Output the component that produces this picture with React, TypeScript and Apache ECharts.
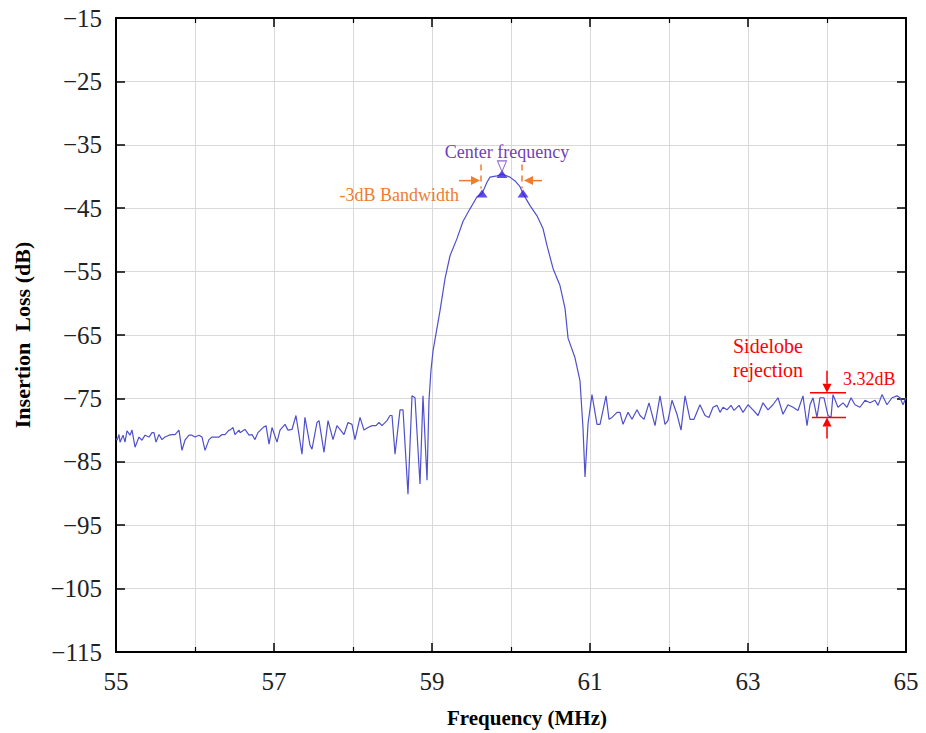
import React, { useEffect, useRef } from 'react';
import * as echarts from 'echarts';

// Frequency (MHz) and insertion loss (dB)
const freq = [
  55.0, 55.013, 55.038, 55.051, 55.089, 55.114, 55.139, 55.177, 55.203, 55.241,
  55.291, 55.329, 55.367, 55.418, 55.456, 55.481, 55.506, 55.544, 55.582, 55.62,
  55.671, 55.709, 55.747, 55.797, 55.835, 55.873, 55.924, 55.962, 56.0, 56.051,
  56.089, 56.127, 56.177, 56.215, 56.253, 56.304, 56.342, 56.38, 56.43, 56.443,
  56.481, 56.506, 56.557, 56.57, 56.62, 56.633, 56.684, 56.722, 56.759, 56.797,
  56.861, 56.899, 56.937, 56.975, 57.038, 57.076, 57.139, 57.177, 57.228, 57.278,
  57.354, 57.392, 57.456, 57.481, 57.544, 57.57, 57.633, 57.684, 57.747, 57.797,
  57.835, 57.886, 57.937, 57.987, 58.025, 58.089, 58.139, 58.19, 58.241, 58.291,
  58.329, 58.367, 58.43, 58.468, 58.494, 58.532, 58.595, 58.633, 58.696, 58.747,
  58.785, 58.848, 58.886, 58.937, 58.962, 58.987, 59.013, 59.101, 59.165, 59.228,
  59.316, 59.392, 59.481, 59.57, 59.633, 59.696, 59.734, 59.823, 59.886, 59.987,
  60.051, 60.114, 60.152, 60.241, 60.329, 60.405, 60.456, 60.532, 60.62, 60.684,
  60.722, 60.81, 60.873, 60.911, 60.937, 60.975, 61.025, 61.089, 61.127, 61.203,
  61.241, 61.278, 61.342, 61.38, 61.418, 61.481, 61.532, 61.595, 61.633, 61.684,
  61.747, 61.823, 61.886, 61.949, 61.987, 62.038, 62.101, 62.152, 62.203, 62.266,
  62.316, 62.392, 62.456, 62.506, 62.557, 62.608, 62.646, 62.684, 62.734, 62.785,
  62.823, 62.886, 62.937, 63.0, 63.063, 63.127, 63.19, 63.253, 63.316, 63.38,
  63.443, 63.506, 63.57, 63.633, 63.696, 63.747, 63.785, 63.823, 63.873, 63.911,
  63.962, 64.013, 64.051, 64.076, 64.139, 64.203, 64.253, 64.304, 64.354, 64.418,
  64.481, 64.544, 64.608, 64.646, 64.696, 64.759, 64.823, 64.886, 64.924, 64.962,
  65.0,
];
const loss = [
  -81.3, -81.6, -80.7, -81.9, -80.8, -81.9, -80.1, -80.8, -80.0, -82.7,
  -81.1, -81.6, -80.8, -81.1, -80.4, -80.4, -81.9, -80.7, -81.5, -81.1,
  -80.8, -80.7, -80.7, -80.0, -83.2, -81.6, -80.8, -80.8, -81.1, -80.8,
  -81.1, -83.2, -81.5, -81.1, -81.1, -81.1, -80.7, -80.7, -80.0, -80.0,
  -79.6, -80.7, -80.0, -80.4, -80.0, -79.9, -80.8, -80.7, -81.5, -80.4,
  -79.6, -79.3, -82.2, -79.6, -81.9, -80.0, -79.1, -80.0, -79.9, -77.7,
  -83.8, -78.0, -82.4, -83.0, -78.8, -78.5, -83.5, -78.5, -81.5, -79.3,
  -79.9, -80.7, -78.8, -79.1, -81.5, -78.0, -80.0, -79.6, -79.3, -79.3,
  -78.8, -79.3, -78.5, -77.7, -77.7, -83.8, -76.8, -76.8, -90.1, -74.6,
  -74.9, -88.5, -74.6, -87.9, -75.3, -70.6, -67.5, -61.2, -56.1, -52.5,
  -49.8, -47.1, -45.1, -43.2, -42.7, -40.9, -40.1, -39.9, -39.6, -40.1,
  -40.7, -41.6, -42.7, -44.6, -46.2, -48.2, -50.9, -54.5, -57.2, -60.8,
  -65.5, -68.6, -72.2, -79.6, -87.4, -79.0, -74.4, -79.1, -79.1, -74.6,
  -78.3, -78.0, -77.2, -77.2, -79.1, -77.2, -78.3, -76.8, -77.7, -78.3,
  -75.7, -79.3, -74.6, -79.1, -78.5, -75.3, -77.5, -80.0, -74.6, -78.3,
  -78.3, -76.0, -77.7, -78.0, -76.4, -76.1, -77.2, -76.4, -76.8, -76.1,
  -76.9, -76.1, -77.2, -76.0, -76.8, -77.7, -75.7, -76.8, -76.0, -74.9,
  -77.5, -76.0, -76.4, -76.9, -74.6, -79.3, -76.0, -74.9, -78.0, -74.9,
  -74.9, -77.7, -78.0, -74.4, -76.4, -75.7, -76.4, -74.9, -76.0, -76.4,
  -75.3, -75.7, -75.3, -76.1, -74.4, -76.0, -74.9, -74.6, -74.9, -76.0,
  -74.9,
];

// -3 dB bandwidth markers and center frequency marker
const bwFreq = [59.633, 60.152];
const bwLoss = [-42.7, -42.7];
const centerFreq = [59.886];
const centerLoss = [-39.6];
const centerOpenLoss = [-38.4];

// sidelobe rejection annotation
const sidelobeFreq = 64.0;
const sidelobeHigh = -74.1;
const sidelobeLow = -78.0;
const sidelobeValue = '3.32dB';

const xMin = 55;
const xMax = 65;
const xStep = 2;
const yMin = -115;
const yMax = -15;
const yStep = 10;

const FONT = 'Liberation Serif';
const LINE = '#5050cc';
const MARK = '#3a1fe6';
const PURPLE = '#7040c0';
const ORANGE = '#ed7d31';
const RED = '#ff0000';

export default function App() {
  const ref = useRef<HTMLDivElement>(null);
  useEffect(() => {
    const chart = echarts.init(ref.current!, null, { renderer: 'svg' });
    const minus = (v: number) => String(v).replace('-', '\u2212');
    const xCommon = {
      type: 'value',
      min: xMin,
      max: xMax,
      interval: xStep,
      axisLine: { show: true, onZero: false, lineStyle: { color: '#000', width: 2 } },
      axisTick: { show: true, inside: true, length: 9, lineStyle: { color: '#000', width: 1.5 } },
      minorTick: { show: true, splitNumber: 2, length: 5, lineStyle: { color: '#000', width: 1.2 } },
      splitLine: { show: false },
    };
    const yCommon = {
      type: 'value',
      min: yMin,
      max: yMax,
      interval: yStep,
      axisLine: { show: true, onZero: false, lineStyle: { color: '#000', width: 2 } },
      axisTick: { show: true, inside: true, length: 9, lineStyle: { color: '#000', width: 1.5 } },
      splitLine: { show: false },
    };
    chart.setOption({
      animation: false,
      backgroundColor: '#fff',
      grid: { left: 116, right: 20, top: 18, bottom: 77 },
      xAxis: [
        {
          ...xCommon,
          position: 'bottom',
          name: 'Frequency (MHz)',
          nameLocation: 'middle',
          nameGap: 55,
          nameTextStyle: { fontFamily: FONT, fontWeight: 'bold', fontSize: 21, color: '#000', padding: [0, 0, 0, 32] },
          axisLabel: { fontFamily: FONT, fontSize: 25, color: '#222', margin: 17 },
          splitLine: { show: true, lineStyle: { color: '#d9d9d9', width: 1 } },
          minorSplitLine: { show: true, lineStyle: { color: '#d9d9d9', width: 1 } },
        },
        { ...xCommon, position: 'top', axisLabel: { show: false } },
      ],
      yAxis: [
        {
          ...yCommon,
          position: 'left',
          name: 'Insertion  Loss (dB)',
          nameLocation: 'middle',
          nameGap: 83,
          nameTextStyle: { fontFamily: FONT, fontWeight: 'bold', fontSize: 22, color: '#000' },
          axisLabel: { fontFamily: FONT, fontSize: 25, color: '#222', margin: 14, formatter: minus },
          splitLine: { show: true, lineStyle: { color: '#d9d9d9', width: 1 } },
        },
        { ...yCommon, position: 'right', axisLabel: { show: false } },
      ],
      series: [
        {
          type: 'line',
          data: freq.map((f, i) => [f, loss[i]]),
          showSymbol: false,
          symbol: 'none',
          lineStyle: { color: LINE, width: 1.2 },
          z: 2,
        },
        {
          type: 'scatter',
          data: [...bwFreq.map((f, i) => [f, bwLoss[i]]), ...centerFreq.map((f, i) => [f, centerLoss[i]])],
          symbol: 'triangle',
          symbolSize: [11, 8],
          itemStyle: { color: MARK },
          z: 4,
        },
        {
          type: 'scatter',
          data: centerFreq.map((f, i) => [f, centerOpenLoss[i]]),
          symbol: 'triangle',
          symbolRotate: 180,
          symbolSize: [9, 11],
          itemStyle: { color: '#fff', borderColor: PURPLE, borderWidth: 1 },
          z: 4,
        },
      ],
    });

    const p = (x: number, y: number) => chart.convertToPixel({ gridIndex: 0 }, [x, y]) as number[];
    const arrow = (x1: number, y1: number, x2: number, y2: number, color: string, w = 1.5) => {
      const dx = x2 - x1;
      const dy = y2 - y1;
      const len = Math.hypot(dx, dy);
      const ux = dx / len;
      const uy = dy / len;
      const hl = 9;
      const hw = 4.5;
      const bx = x2 - ux * hl;
      const by = y2 - uy * hl;
      return [
        { type: 'line', shape: { x1, y1, x2: bx, y2: by }, style: { stroke: color, lineWidth: w }, z: 10 },
        {
          type: 'polygon',
          shape: { points: [[x2, y2], [bx - uy * hw, by + ux * hw], [bx + uy * hw, by - ux * hw]] },
          style: { fill: color },
          z: 10,
        },
      ];
    };
    const ml = p(bwFreq[0], bwLoss[0]);
    const mr = p(bwFreq[1], bwLoss[1]);
    const pc = p(centerFreq[0], centerLoss[0]);
    const st = p(sidelobeFreq, sidelobeHigh);
    const sb = p(sidelobeFreq, sidelobeLow);
    const g: any[] = [
      {
        type: 'text',
        x: pc[0] + 5,
        y: pc[1] - 22,
        style: { text: 'Center frequency', fill: PURPLE, font: `18px "${FONT}"`, align: 'center', verticalAlign: 'middle' },
        z: 10,
      },
      {
        type: 'text',
        x: ml[0] - 23,
        y: ml[1] + 1,
        style: { text: '-3dB Bandwidth', fill: ORANGE, font: `18px "${FONT}"`, align: 'right', verticalAlign: 'middle' },
        z: 10,
      },
      { type: 'line', shape: { x1: ml[0] - 1, y1: ml[1] - 29, x2: ml[0] - 1, y2: ml[1] - 5 }, style: { stroke: ORANGE, lineWidth: 1.5, lineDash: [6, 5] }, z: 10 },
      { type: 'line', shape: { x1: mr[0] - 1, y1: mr[1] - 29, x2: mr[0] - 1, y2: mr[1] - 5 }, style: { stroke: ORANGE, lineWidth: 1.5, lineDash: [6, 5] }, z: 10 },
      ...arrow(ml[0] - 23, ml[1] - 13, ml[0] - 2, ml[1] - 13, ORANGE),
      ...arrow(mr[0] + 19, mr[1] - 13, mr[0] + 1, mr[1] - 13, ORANGE),
      { type: 'line', shape: { x1: st[0] - 17, y1: st[1], x2: st[0] + 19, y2: st[1] }, style: { stroke: RED, lineWidth: 1.5 }, z: 10 },
      { type: 'line', shape: { x1: sb[0] - 15, y1: sb[1], x2: sb[0] + 19, y2: sb[1] }, style: { stroke: RED, lineWidth: 1.5 }, z: 10 },
      ...arrow(st[0], st[1] - 22, st[0], st[1], RED),
      ...arrow(sb[0], sb[1] + 21, sb[0], sb[1], RED),
      {
        type: 'text',
        x: st[0] - 94,
        y: st[1] - 47,
        style: { text: 'Sidelobe', fill: RED, font: `20px "${FONT}"`, align: 'left', verticalAlign: 'middle' },
        z: 10,
      },
      {
        type: 'text',
        x: st[0] - 94,
        y: st[1] - 23,
        style: { text: 'rejection', fill: RED, font: `20px "${FONT}"`, align: 'left', verticalAlign: 'middle' },
        z: 10,
      },
      {
        type: 'text',
        x: st[0] + 16,
        y: st[1] - 14,
        style: { text: sidelobeValue, fill: RED, font: `18px "${FONT}"`, align: 'left', verticalAlign: 'middle' },
        z: 10,
      },
    ];
    chart.setOption({ graphic: g });
    return () => chart.dispose();
  }, []);
  return (
    <div
      ref={ref}
      style={{ position: 'fixed', left: 0, top: 0, width: 926, height: 733, background: '#fff' }}
    />
  );
}
